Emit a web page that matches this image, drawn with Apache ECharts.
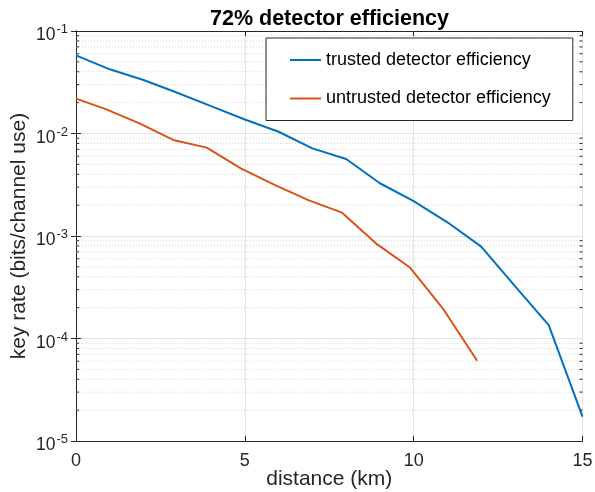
<!DOCTYPE html>
<html><head><meta charset="utf-8">
<script src="https://cdn.jsdelivr.net/npm/echarts@6/dist/echarts.min.js"></script>
<style>html,body{margin:0;padding:0;background:#fff}#c{width:595px;height:492px}</style>
</head><body><div id="c"></div>
<script>
const distTrusted = [0,1,2,3,4,5,6,7,8,9,10,11,12,13,14,15];
const rateTrusted = [0.0579,0.0423,0.0333,0.025,0.0185,0.0137,0.0104,0.00716,0.00564,0.00327,0.00219,0.00136,0.000787,0.000325,0.000135,0.0000173];
const distUntrusted = [0,0.88,1.88,2.88,3.87,4.88,5.88,6.88,7.88,8.88,9.88,10.88,11.88];
const rateUntrusted = [0.0219,0.0173,0.01256,0.00865,0.00728,0.00456,0.00315,0.00224,0.00169,0.000848,0.000496,0.000193,0.0000607];
const xTicks = [0,5,10,15];
const yDecades = [1e-5,1e-4,1e-3,1e-2,1e-1];
const minorMultipliers = [2,3,4,5,6,7,8,9];
const seriesNames = ['trusted detector efficiency','untrusted detector efficiency'];
const titleText = '72% detector efficiency';
const xName = 'distance (km)';
const yName = 'key rate (bits/channel use)';

const FONT = 'Liberation Sans, Arial, Helvetica, sans-serif';
const AX = '#262626';
const minorVals = [];
for (let i = 0; i < yDecades.length - 1; i++) for (const m of minorMultipliers) minorVals.push([xTicks[0], yDecades[i] * m]);

const chart = echarts.init(document.getElementById('c'), null, {renderer:'canvas'});
chart.setOption({
  animation:false,
  backgroundColor:'#fff',
  title:{text:titleText,left:205,top:3,textStyle:{fontFamily:FONT,fontSize:21.5,fontWeight:'bold',color:'#000'}},
  grid:{left:76,right:12.5,top:31,bottom:51,containLabel:false,outerBoundsMode:'none'},
  legend:{
    data:seriesNames,orient:'vertical',left:266,top:38,
    icon:'rect',itemWidth:31,itemHeight:2,itemGap:20.5,
    padding:[13,22,13,24],
    borderColor:AX,borderWidth:1,backgroundColor:'#fff',
    textStyle:{fontFamily:FONT,fontSize:18,color:'#000'}
  },
  xAxis:[{
    type:'value',min:xTicks[0],max:xTicks[xTicks.length-1],interval:5,
    name:xName,nameLocation:'middle',nameGap:28,nameMoveOverlap:false,
    nameTextStyle:{fontFamily:FONT,fontSize:21,color:AX},
    axisLine:{show:true,lineStyle:{color:AX,width:1}},
    axisTick:{show:true,inside:true,length:5,lineStyle:{color:AX}},
    axisLabel:{fontFamily:FONT,fontSize:18,color:AX,margin:11},
    splitLine:{show:true,lineStyle:{color:'#e3e3e3',width:1}}
  },{
    type:'value',position:'top',min:xTicks[0],max:xTicks[xTicks.length-1],interval:5,
    axisLine:{show:true,lineStyle:{color:AX,width:1}},
    axisTick:{show:true,inside:true,length:5,lineStyle:{color:AX}},
    axisLabel:{show:false},splitLine:{show:false}
  }],
  yAxis:[{
    type:'log',logBase:10,min:yDecades[0],max:yDecades[yDecades.length-1],
    name:yName,nameLocation:'middle',nameGap:46,nameMoveOverlap:false,
    nameTextStyle:{fontFamily:FONT,fontSize:21,color:AX},
    axisLine:{show:true,lineStyle:{color:AX,width:1}},
    axisTick:{show:true,inside:true,length:5,lineStyle:{color:AX}},
    axisLabel:{
      margin:8,
      formatter:v=>'{b|10}{s|'+Math.round(Math.log10(v))+'}',
      rich:{
        b:{fontFamily:FONT,fontSize:17.5,color:AX,padding:[9,0,0,0]},
        s:{fontFamily:FONT,fontSize:13,color:AX,padding:[0,0,3,1]}
      }
    },
    splitLine:{show:true,lineStyle:{color:'#e3e3e3',width:1}}
  },{
    type:'log',logBase:10,position:'right',min:yDecades[0],max:yDecades[yDecades.length-1],
    axisLine:{show:true,lineStyle:{color:AX,width:1}},
    axisTick:{show:true,inside:true,length:5,lineStyle:{color:AX}},
    axisLabel:{show:false},splitLine:{show:false}
  }],
  series:[
    {
      type:'custom',name:'minor',xAxisIndex:0,yAxisIndex:0,z:1,silent:true,
      data:minorVals,
      renderItem:(params,api)=>{
        const v = api.value(1);
        const p0 = api.coord([xTicks[0], v]);
        const p1 = api.coord([xTicks[xTicks.length-1], v]);
        return {type:'group',children:[
          {type:'line',shape:{x1:p0[0],y1:p0[1],x2:p1[0],y2:p1[1]},style:{stroke:'#d4d4d4',lineWidth:1,lineDash:[1,2]}},
          {type:'line',shape:{x1:p0[0],y1:p0[1],x2:p0[0]+3,y2:p0[1]},style:{stroke:AX,lineWidth:1}},
          {type:'line',shape:{x1:p1[0]-3,y1:p1[1],x2:p1[0],y2:p1[1]},style:{stroke:AX,lineWidth:1}}
        ]};
      }
    },
    {type:'line',name:seriesNames[0],data:distTrusted.map((d,i)=>[d,rateTrusted[i]]),showSymbol:false,symbol:'none',
     lineStyle:{color:'#0072BD',width:2},itemStyle:{color:'#0072BD'},z:5},
    {type:'line',name:seriesNames[1],data:distUntrusted.map((d,i)=>[d,rateUntrusted[i]]),showSymbol:false,symbol:'none',
     lineStyle:{color:'#D95319',width:2},itemStyle:{color:'#D95319'},z:5}
  ]
});
</script></body></html>
